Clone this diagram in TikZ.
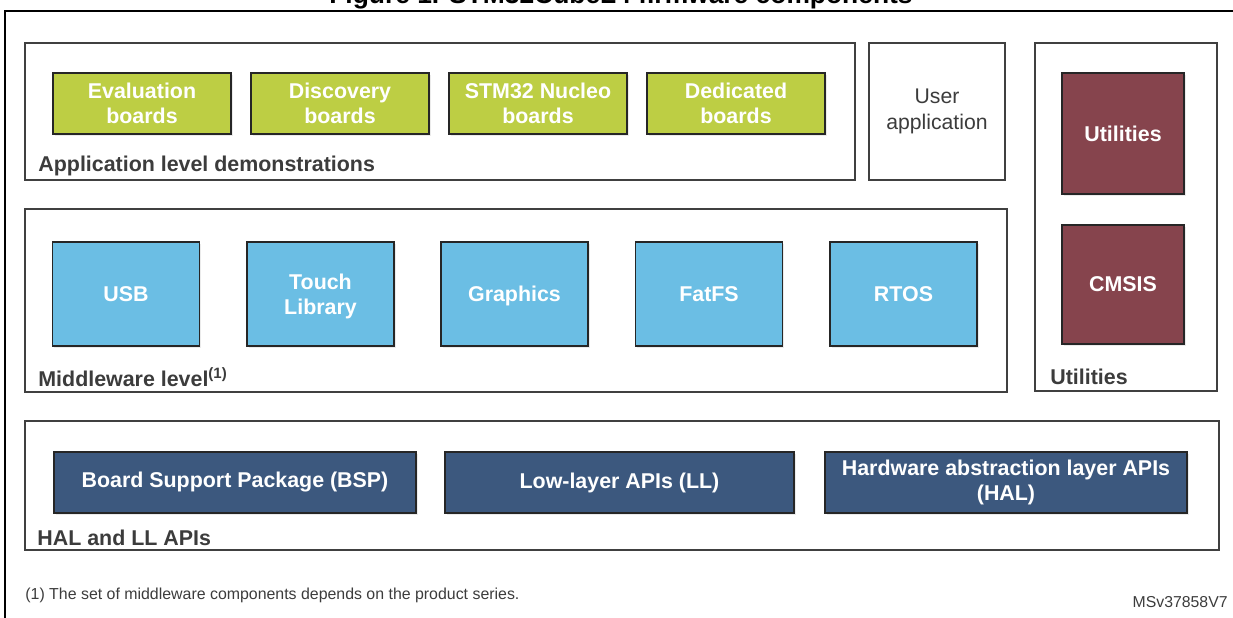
\documentclass[tikz,border=0pt]{standalone}
\usepackage{fontspec}
\setmainfont{Liberation Sans}
\usetikzlibrary{shadows}

\definecolor{framegray}{RGB}{64,64,64}
\definecolor{textgray}{RGB}{60,60,60}
\definecolor{boardgreen}{RGB}{189,206,68}
\definecolor{mwblue}{RGB}{107,190,228}
\definecolor{utilred}{RGB}{134,68,77}
\definecolor{apiblue}{RGB}{60,88,126}

\tikzset{
  frame/.style={draw=framegray, line width=1pt, fill=white,
    drop shadow={shadow xshift=0.6pt, shadow yshift=-0.6pt, fill=black!12}},
  block/.style={draw=black!85, line width=0.9pt, text=white, align=center,
    font=\bfseries\fontsize{10.7}{12.5}\selectfont, inner sep=0pt,
    drop shadow={shadow xshift=0.8pt, shadow yshift=-0.8pt, fill=black!15}},
  board/.style={block, fill=boardgreen, minimum width=89pt, minimum height=30.5pt},
  mw/.style={block, fill=mwblue, minimum width=73.5pt, minimum height=52pt},
  util/.style={block, fill=utilred, minimum width=61pt},
  api/.style={block, fill=apiblue, minimum height=30.5pt},
  level/.style={anchor=west, text=textgray, inner sep=0pt,
    font=\bfseries\fontsize{10.7}{12.5}\selectfont}
}

\begin{document}
\begin{tikzpicture}[x=1pt, y=-1pt]
  \useasboundingbox (0,0) rectangle (616.5,308.5);
  % page frame and clipped caption
  \draw[line width=1.2pt] (640,5.5) -- (2.5,5.5) -- (2.5,312);
  \node[anchor=base, inner sep=0pt, font=\bfseries\fontsize{13.2}{15}\selectfont] (title)
    at (310.5,1.8) {Figure 1. STM32CubeL4 firmware components};

  % application level
  \node[frame, minimum width=415pt, minimum height=68.5pt] (app) at (220,55.75) {};
  \node[board] (eval) at (71,51.75) {Evaluation\\boards};
  \node[board] (disco) at (170,51.75) {Discovery\\boards};
  \node[board] (nucleo) at (269,51.75) {STM32 Nucleo\\boards};
  \node[board] (dedic) at (368,51.75) {Dedicated\\boards};
  \node[level] (applbl) at (19,83) {Application level demonstrations};

  \node[frame, minimum width=68pt, minimum height=68.5pt, align=center, text=textgray,
    font=\fontsize{10.6}{13.4}\selectfont] (user) at (468.5,55.75) {User\\application};

  % utilities
  \node[frame, minimum width=91pt, minimum height=174pt] (utils) at (563,108.5) {};
  \node[util, minimum height=60.5pt] (utilbox) at (561.5,66.75) {Utilities};
  \node[util, minimum height=59.5pt] (cmsis) at (561.5,142.25) {CMSIS};
  \node[level] (utillbl) at (525,188.5) {Utilities};

  % middleware level
  \node[frame, minimum width=491pt, minimum height=91.5pt] (mwlevel) at (258,150.25) {};
  \node[mw] (usb) at (63,147) {USB};
  \node[mw, text depth=0pt] (touch) at (160.25,147) {Touch\\Library};
  \node[mw, text depth=0pt] (gfx) at (257.25,147) {Graphics};
  \node[mw] (fatfs) at (354.5,147) {FatFS};
  \node[mw] (rtos) at (451.75,147) {RTOS};
  \node[level] (mwlbl) at (19,188.5) {Middleware level\textsuperscript{(1)}};

  % HAL and LL
  \node[frame, minimum width=597pt, minimum height=64.5pt] (hal) at (311,242.75) {};
  \node[api, minimum width=181pt] (bsp) at (117.5,241.25) {Board Support Package (BSP)};
  \node[api, minimum width=174.5pt] (ll) at (309.75,241.25) {Low-layer APIs (LL)};
  \node[api, minimum width=181pt] (halapi) at (503,241.25) {Hardware abstraction layer APIs\\(HAL)};
  \node[level] (hallbl) at (18.5,269) {HAL and LL APIs};

  % notes
  \node[anchor=west, inner sep=0pt, text=textgray, font=\fontsize{7.95}{9}\selectfont] (note)
    at (12.5,297.5) {(1) The set of middleware components depends on the product series.};
  \node[anchor=east, inner sep=0pt, text=textgray, font=\fontsize{7.9}{9}\selectfont] (ref)
    at (614,301) {MSv37858V7};
\end{tikzpicture}
\end{document}
